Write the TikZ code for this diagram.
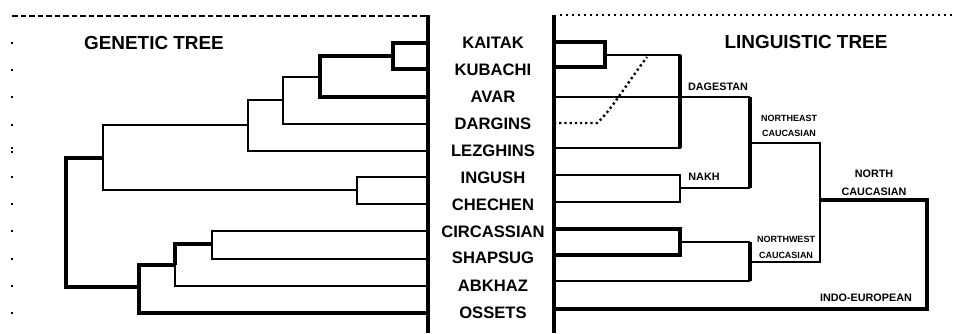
\documentclass[tikz,border=0pt]{standalone}
\usepackage{fontspec}
\setmainfont{Liberation Sans}
\usepackage{tikz}
\usetikzlibrary{positioning}

\begin{document}
\begin{tikzpicture}[x=1pt,y=-1pt,line join=miter,
  br/.style={line width=2.1pt},
  brthick/.style={line width=3.6pt},
  brthin/.style={line width=1.4pt},
  dargdot/.style={line width=2.4pt,dash pattern=on 2.2pt off 3pt},
  edgetick/.style={line width=1.6pt},
  leaflbl/.style={font=\fontsize{16.6}{18}\selectfont\bfseries,inner sep=0pt},
  treetitle/.style={font=\fontsize{18.9}{21}\selectfont\bfseries,inner sep=0pt},
  grplbl/.style={font=\fontsize{10.8}{18}\selectfont\bfseries,inner sep=0pt,align=center},
  grpsmall/.style={font=\fontsize{9}{15.5}\selectfont\bfseries,inner sep=0pt,align=center}]
  \useasboundingbox (0,0) rectangle (954,333);

  % frame: dividers and top rules
  \coordinate (divLtop) at (428,15); \coordinate (divLbot) at (428,333);
  \coordinate (divRtop) at (554,15); \coordinate (divRbot) at (554,333);
  \draw[brthick] (divLtop) -- (divLbot); \draw[brthick] (divRtop) -- (divRbot);
  \draw[line width=1.2pt,dash pattern=on 5.5pt off 3pt] (12,16) -- (divLtop |- 0,16);
  \draw[line width=1.5pt,dash pattern=on 1.5pt off 4.5pt] (560,15) -- (954,15);
  \foreach \yy in {43,70,97,125,148,152,177,204,231,259,286,313}
    \draw[edgetick] (11,\yy) -- (13,\yy);

  % leaf names
  \foreach \nm/\yy in {KAITAK/43,KUBACHI/70,AVAR/97,DARGINS/124,LEZGHINS/151,INGUSH/178,CHECHEN/205,CIRCASSIAN/232,SHAPSUG/258,ABKHAZ/286,OSSETS/313}
    \node[leaflbl] (\nm) at (493,\yy) {\nm};

  \node[treetitle] (gentitle) at (154,43) {GENETIC TREE};
  \node[treetitle] (lingtitle) at (806,42) {LINGUISTIC TREE};

  % genetic tree
  \coordinate (gKai) at (428,43); \coordinate (gKub) at (428,69); \coordinate (gAva) at (428,97);
  \coordinate (gDar) at (428,124); \coordinate (gLez) at (428,151); \coordinate (gIng) at (428,177);
  \coordinate (gChe) at (428,204); \coordinate (gCir) at (428,231); \coordinate (gSha) at (428,259);
  \coordinate (gAbk) at (428,286); \coordinate (gOss) at (428,313);
  \coordinate (gj1) at (393,56); \coordinate (gj2) at (320,77); \coordinate (gj3) at (283,100);
  \coordinate (gj4) at (248,125); \coordinate (gj5) at (357,190); \coordinate (gj6) at (103,158);
  \coordinate (gj7) at (212,244); \coordinate (gj8) at (175,265); \coordinate (gj9) at (139,287);
  \coordinate (groot) at (66,220);
  \draw[brthick] (gKai) -| (gj1) |- (gKub);
  \draw[brthick] (gj1) -| (gj2) |- (gAva);
  \draw[br] (gj2) -| (gj3) |- (gDar);
  \draw[br] (gj3) -| (gj4) |- (gLez);
  \draw[br] (gIng) -| (gj5) |- (gChe);
  \draw[br] (gj4) -| (gj6) |- (gj5);
  \draw[br] (gCir) -| (gj7) |- (gSha);
  \draw[brthick] (gj7) -| (gj8); \draw[br] (gj8) |- (gAbk);
  \draw[brthick] (gj8) -| (gj9) |- (gOss);
  \draw[brthick] (gj6) -| (groot) |- (gj9);

  % linguistic tree
  \coordinate (lKai) at (554,42); \coordinate (lKub) at (554,67); \coordinate (lAva) at (554,97);
  \coordinate (lDar) at (554,123); \coordinate (lLez) at (554,148); \coordinate (lIng) at (554,175);
  \coordinate (lChe) at (554,202); \coordinate (lCir) at (554,229); \coordinate (lSha) at (554,255);
  \coordinate (lAbk) at (554,281); \coordinate (lOss) at (554,309);
  \coordinate (lj1) at (605,55); \coordinate (lj2) at (680,97); \coordinate (lj3) at (750,143);
  \coordinate (lj4) at (680,188); \coordinate (lj5) at (680,242); \coordinate (lj6) at (750,262);
  \coordinate (lj7) at (820,200); \coordinate (lj8) at (927,309);
  \draw[brthick] (lKai) -| (lj1) |- (lKub);
  \draw[br] (lj1) -| (lj2) |- (lLez);
  \draw[brthick] (lj1 -| lj2) -- (lLez -| lj2);
  \draw[br] (lAva) -- (lj2) -- (lj2 -| lj3);
  \draw[brthick] (lj2 -| lj3) -- (lj4 -| lj3);
  \draw[brthin] (lIng) -| (lj4) |- (lChe); \draw[br] (lIng -| lj4) -- (lChe -| lj4);
  \draw[brthin] (lj4) -- (lj4 -| lj3);
  \draw[br] (lj3) -| (lj7) |- (lj6);
  \draw[brthick] (lCir) -| (lj5) |- (lSha);
  \draw[br] (lj5) -- (lj5 -| lj6);
  \draw[brthick] (lj5 -| lj6) -- (lAbk -| lj6);
  \draw[br] (lAbk) -- (lAbk -| lj6);
  \draw[brthick] (lj7) -| (lj8) -- (lOss);
  \coordinate (dBend) at (597,123); \coordinate (dEnd) at (647,57);
  \draw[dargdot] (lDar) -- (dBend) .. controls (610,112) and (628,82) .. (dEnd);

  \node[grplbl] (dagestan) at (718,87) {DAGESTAN};
  \node[grpsmall] (necauc) at (789,126) {NORTHEAST\\CAUCASIAN};
  \node[grplbl] (nakh) at (704,177) {NAKH};
  \node[grplbl] (nthcauc) at (874,183) {NORTH\\CAUCASIAN};
  \node[grpsmall] (nwcauc) at (786,247.5) {NORTHWEST\\CAUCASIAN};
  \node[grplbl] (indoeur) at (866,298) {INDO-EUROPEAN};
\end{tikzpicture}
\end{document}
